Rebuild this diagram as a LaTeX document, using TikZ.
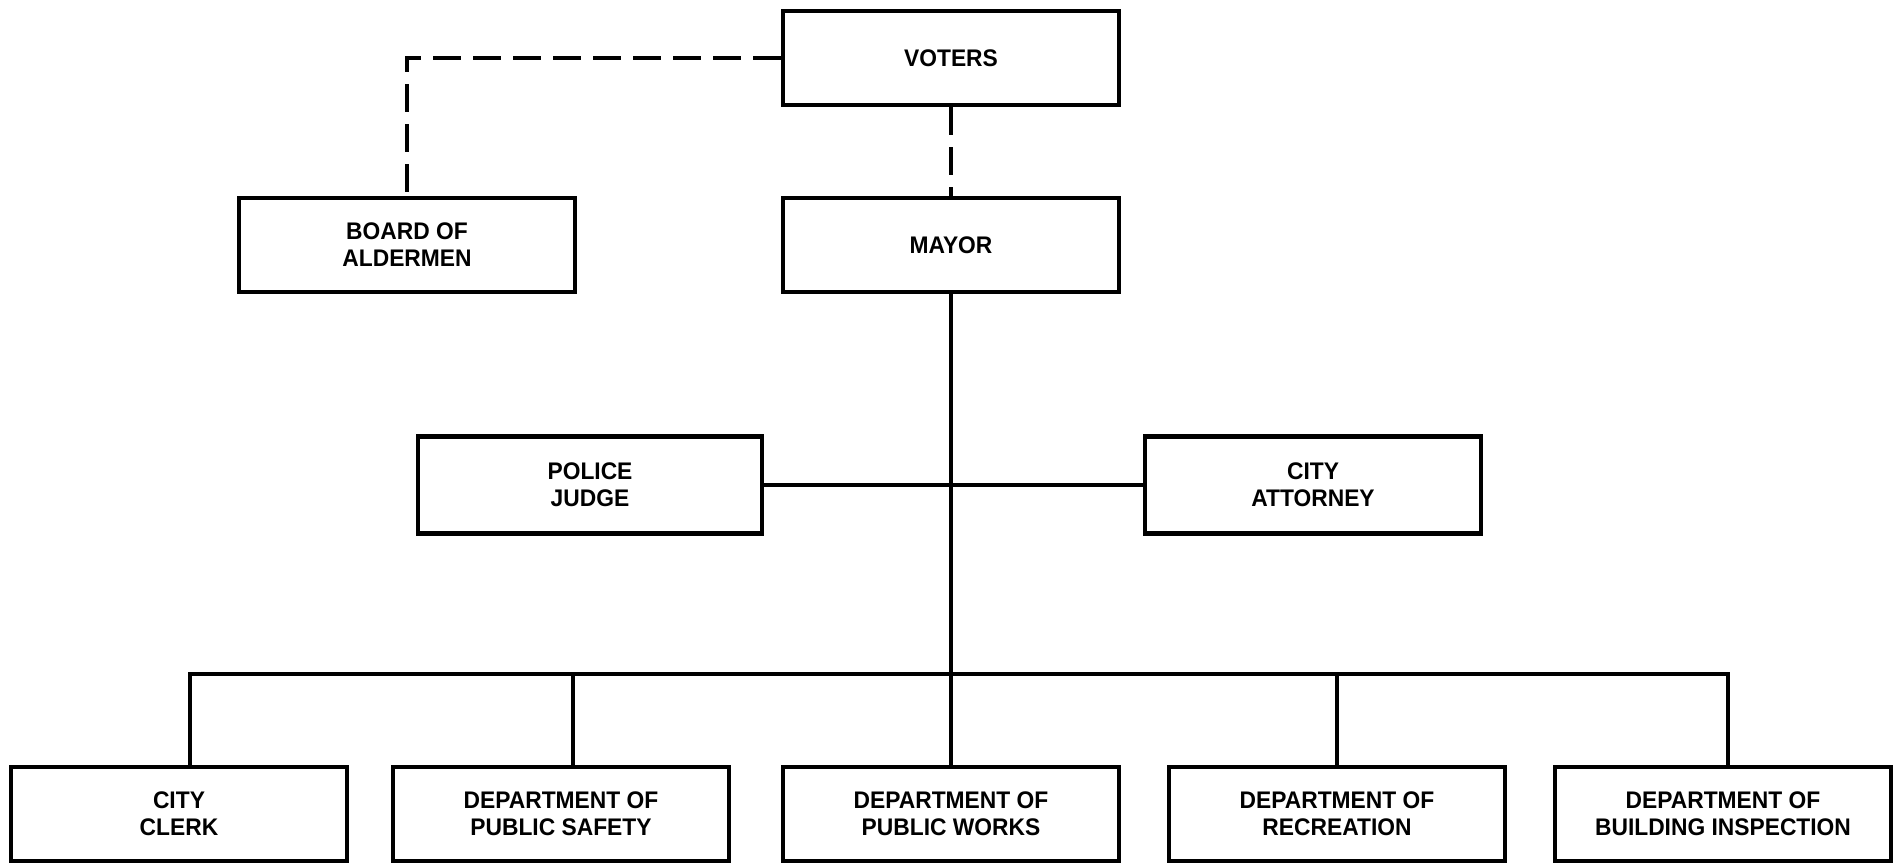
\documentclass[tikz,border=0pt]{standalone}
\usepackage{fontspec}
\setmainfont{Liberation Sans}[FakeStretch=0.95]
\usepackage{tikz}
\usetikzlibrary{positioning,calc}

\begin{document}
\begin{tikzpicture}[
  x=1pt, y=-1pt,
  office/.style={draw=black, line width=4.2pt, minimum width=336pt, minimum height=94pt, inner sep=0pt, align=center, font=\fontsize{24}{27}\selectfont\bfseries},
  link/.style={draw=black, line width=3.4pt},
  elect/.style={draw=black, line width=3.6pt, dash pattern=on 28pt off 12pt}
]
\useasboundingbox (0,0) rectangle (1902,864);

% elected by the voters
\node[office] (voters) at (951,58) {VOTERS};
\node[office] (board) at (407,245) {BOARD OF\\ALDERMEN};
\node[office] (mayor) at (951,245) {MAYOR};

% appointed officials
\node[office, minimum width=344pt, minimum height=97pt] (judge) at (590,485) {POLICE\\JUDGE};
\node[office, minimum height=97pt] (attorney) at (1313,485) {CITY\\ATTORNEY};

% departments
\node[office] (clerk) at (179,814) {CITY\\CLERK};
\node[office] (safety) at (561,814) {DEPARTMENT OF\\PUBLIC SAFETY};
\node[office] (works) at (951,814) {DEPARTMENT OF\\PUBLIC WORKS};
\node[office] (recreation) at (1337,814) {DEPARTMENT OF\\RECREATION};
\node[office] (building) at (1723,814) {DEPARTMENT OF\\BUILDING INSPECTION};

\coordinate (bus) at (951,674);

\draw[elect] (voters.west) -| (board.north);
\draw[elect] (voters) -- (mayor);

\draw[link] (mayor) -- (works);
\draw[link] (judge) -- (attorney);
\draw[link] ([xshift=11pt]clerk.north) |- (bus) -| ([xshift=5pt]building.north);
\draw[link] ([xshift=12pt]safety.north) -- ([xshift=12pt]safety.north |- bus);
\draw[link] (recreation.north) -- (recreation.north |- bus);
\end{tikzpicture}
\end{document}
